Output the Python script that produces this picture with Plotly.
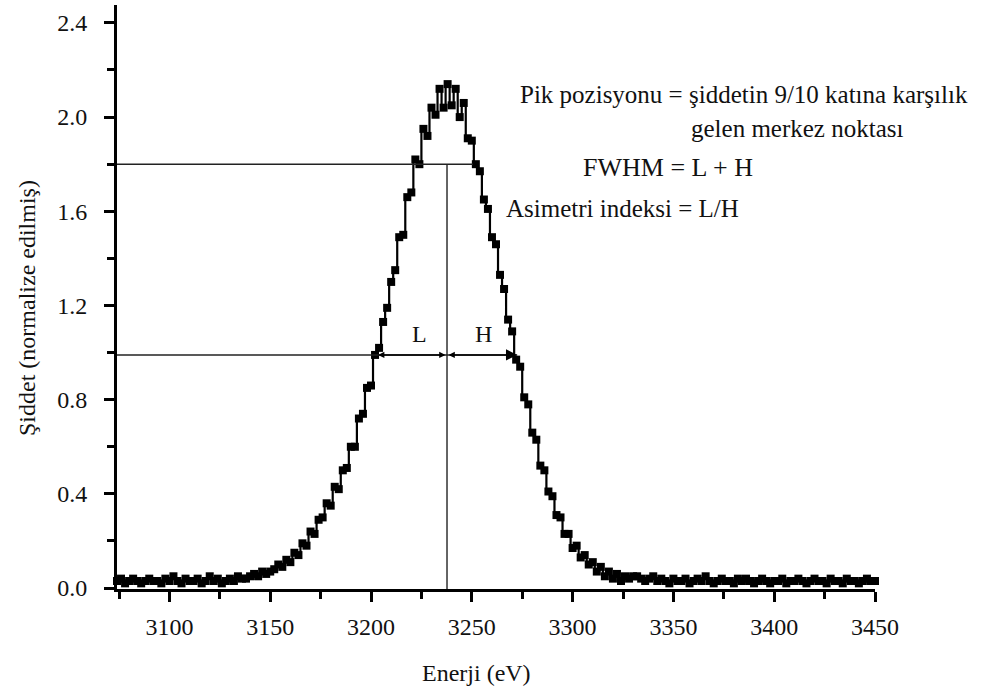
import plotly.graph_objects as go

# ---------------- data ----------------
energy = list(range(3074, 3451, 2))  # eV
intensity = [
    # 3074 - 3128
    0.03, 0.04, 0.02, 0.03, 0.04, 0.03, 0.02, 0.03, 0.04, 0.03,
    0.03, 0.02, 0.04, 0.03, 0.05, 0.03, 0.02, 0.04, 0.03, 0.03,
    0.04, 0.02, 0.03, 0.05, 0.03, 0.04, 0.02, 0.03,
    # 3130 - 3150
    0.04, 0.03, 0.05, 0.04, 0.04, 0.05, 0.06, 0.05, 0.07, 0.06, 0.07,
    # 3152 - 3170
    0.08, 0.10, 0.09, 0.12, 0.11, 0.15, 0.14, 0.19, 0.18, 0.24,
    # 3172 - 3190
    0.23, 0.29, 0.30, 0.36, 0.35, 0.43, 0.42, 0.50, 0.51, 0.60,
    # 3192 - 3210
    0.60, 0.72, 0.74, 0.85, 0.86, 0.99, 1.02, 1.13, 1.19, 1.30,
    # 3212 - 3230
    1.35, 1.49, 1.50, 1.66, 1.68, 1.82, 1.80, 1.95, 1.92, 2.04,
    # 3232 - 3250
    2.01, 2.12, 2.04, 2.14, 2.05, 2.12, 2.00, 2.06, 1.91, 1.90,
    # 3252 - 3270
    1.80, 1.77, 1.65, 1.61, 1.49, 1.46, 1.33, 1.27, 1.14, 1.09,
    # 3272 - 3290
    0.97, 0.94, 0.81, 0.78, 0.66, 0.63, 0.52, 0.50, 0.41, 0.39,
    # 3292 - 3310
    0.31, 0.30, 0.23, 0.23, 0.17, 0.18, 0.13, 0.14, 0.10, 0.11,
    # 3312 - 3330
    0.07, 0.09, 0.05, 0.07, 0.04, 0.06, 0.03, 0.05, 0.04, 0.05,
    # 3332 - 3450
    0.05, 0.04, 0.03, 0.04, 0.05, 0.03, 0.04, 0.03, 0.02, 0.04,
    0.03, 0.03, 0.04, 0.02, 0.03, 0.04, 0.03, 0.05, 0.03, 0.02,
    0.03, 0.04, 0.03, 0.03, 0.02, 0.04, 0.03, 0.04, 0.03, 0.02,
    0.03, 0.04, 0.03, 0.02, 0.03, 0.03, 0.04, 0.02, 0.03, 0.03,
    0.04, 0.03, 0.02, 0.03, 0.04, 0.03, 0.03, 0.02, 0.04, 0.03,
    0.03, 0.02, 0.04, 0.03, 0.03, 0.02, 0.03, 0.04, 0.03, 0.03,
]

peak_level = 2.0
level_90 = 0.9 * peak_level      # 9/10 of intensity
half_level = 0.99                # half maximum line
x90_right = 3250.6
x50_left = 3203.5
x50_right = 3272.5
peak_center = 3237.7

x_range = [3074, 3450]
y_range = [-0.004, 2.476]
x_ticks = [3100, 3150, 3200, 3250, 3300, 3350, 3400, 3450]
y_ticks = [0.0, 0.4, 0.8, 1.2, 1.6, 2.0, 2.4]

txt_line1 = "Pik pozisyonu = şiddetin 9/10 katına karşılık"
txt_line2 = "gelen merkez noktası"
txt_fwhm = "FWHM = L + H"
txt_asym = "Asimetri indeksi = L/H"
x_title = "Enerji (eV)"
y_title = "Şiddet (normalize edilmiş)"

FONT = "Liberation Serif"
FS = 24
FS_NOTE = 25
INK = "#111111"

# ---------------- figure ----------------
fig = go.Figure()
fig.add_trace(go.Scatter(
    x=energy, y=intensity, mode="lines+markers",
    line=dict(color="black", width=2.2, shape="hvh"),
    marker=dict(symbol="square", size=8, color="black"),
    showlegend=False, cliponaxis=False,
))

axis_common = dict(
    showline=True, linecolor="black", linewidth=3,
    ticks="outside", ticklen=10, tickwidth=2.5, tickcolor="black",
    showgrid=False, zeroline=False, mirror=False,
    tickfont=dict(family=FONT, size=FS, color=INK),
)

fig.update_xaxes(range=x_range, tickvals=x_ticks, ticklabelstandoff=4,
                 minor=dict(dtick=25, ticklen=7, tickwidth=2.5, tickcolor="black", ticks="outside"),
                 **axis_common)
fig.update_yaxes(range=y_range, tickvals=y_ticks, tickformat=".1f", ticklabelstandoff=12,
                 minor=dict(dtick=0.2, ticklen=7, tickwidth=2.5, tickcolor="black", ticks="outside"),
                 **axis_common)

line_style = dict(color="#222222", width=1.4)
fig.add_shape(type="line", xref="x", yref="y", x0=x_range[0], x1=x90_right,
              y0=level_90, y1=level_90, line=line_style)
fig.add_shape(type="line", xref="x", yref="y", x0=x_range[0], x1=x50_right,
              y0=half_level, y1=half_level, line=line_style)
fig.add_shape(type="line", xref="x", yref="y", x0=peak_center, x1=peak_center,
              y0=y_range[0], y1=level_90, line=line_style)

# L arrow (double headed)
fig.add_annotation(x=x50_left, y=half_level, ax=peak_center, ay=half_level,
                   xref="x", yref="y", axref="x", ayref="y", text="",
                   showarrow=True, arrowside="end+start", arrowhead=2, arrowsize=0.9,
                   startarrowhead=2, startarrowsize=0.9, arrowwidth=1.4, arrowcolor="black")
# H arrow (double headed, bigger head at the end)
fig.add_annotation(x=x50_right, y=half_level, ax=peak_center, ay=half_level,
                   xref="x", yref="y", axref="x", ayref="y", text="",
                   showarrow=True, arrowside="end+start", arrowhead=2, arrowsize=1.6,
                   startarrowhead=2, startarrowsize=0.9, arrowwidth=1.4, arrowcolor="black")

def px_x(px):
    return (px - 117) / 758.0

def px_y(py):
    return (589 - py) / 584.0

def label(text, px, py, xanchor="left", size=FS, angle=0):
    fig.add_annotation(x=px_x(px), y=px_y(py), xref="paper", yref="paper",
                       text=text, showarrow=False, xanchor=xanchor, yanchor="middle",
                       textangle=angle, font=dict(family=FONT, size=size, color=INK))

label(txt_line1, 518, 95, size=FS_NOTE)
label(txt_line2, 689, 128, size=FS_NOTE)
label(txt_fwhm, 581, 168, size=FS_NOTE + 1)
label(txt_asym, 504, 208, size=FS_NOTE)
label("L", 419, 334, xanchor="center")
label("H", 483, 334, xanchor="center")
label(x_title, 476, 673, xanchor="center")
label(y_title, 27, 308, xanchor="center", angle=-90)

fig.update_layout(
    width=983, height=695,
    margin=dict(l=117, r=108, t=5, b=106),
    paper_bgcolor="white", plot_bgcolor="white",
    font=dict(family=FONT, size=FS, color=INK),
)

fig.write_html("out.html")
